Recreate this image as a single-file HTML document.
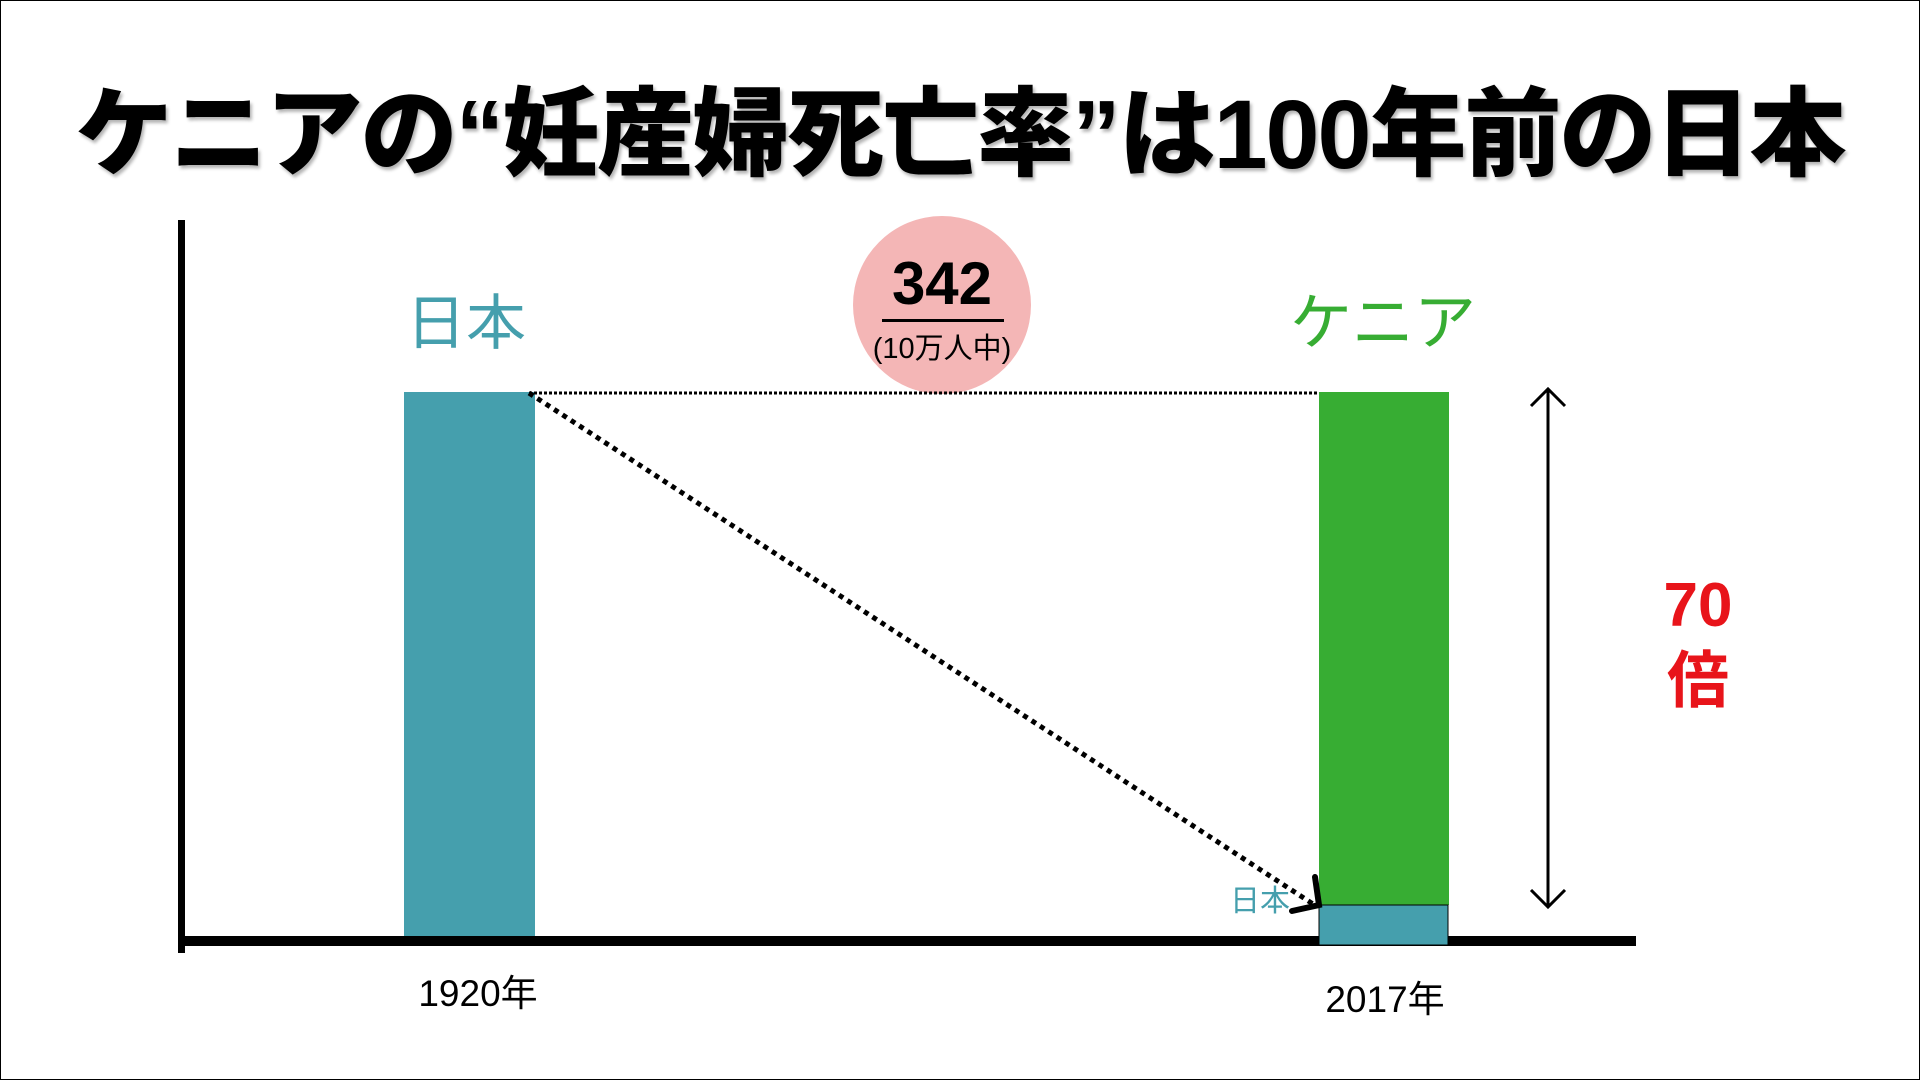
<!DOCTYPE html>
<html><head><meta charset="utf-8"><style>
html,body{margin:0;padding:0;background:#fff;}
body{width:1920px;height:1080px;position:relative;overflow:hidden;font-family:"Liberation Sans","Noto Sans CJK JP",sans-serif;}
.t{position:absolute;white-space:nowrap;}
</style></head><body>
<div style="position:absolute;left:0;top:0;width:1918px;height:1078px;border:1px solid #000;"></div>
<div class="t" style="left:0;width:1920px;top:80px;text-align:center;font-size:97px;font-weight:900;line-height:110px;letter-spacing:-2px;color:#000;text-shadow:2px 3px 3px rgba(0,0,0,0.3);">ケニアの“妊産婦死亡率”は100年前の日本</div>
<svg width="1920" height="1080" style="position:absolute;left:0;top:0">
<rect x="178" y="220" width="7" height="733" fill="#000"/>
<rect x="181" y="936" width="1455" height="10" fill="#000"/>
<rect x="404" y="392" width="131" height="544" fill="#459fad"/>
<rect x="1319" y="392" width="130" height="513" fill="#37ad33"/>
<rect x="1319" y="905" width="129" height="40" fill="#459fad" stroke="#000" stroke-width="1"/>
<circle cx="942" cy="305" r="89" fill="#f4b6b6"/>
<line x1="529" y1="393" x2="1319" y2="393" stroke="#000" stroke-width="3" stroke-dasharray="3,2"/>
<line x1="529" y1="393" x2="1313" y2="904" stroke="#000" stroke-width="5" stroke-dasharray="5,5"/>
<polyline points="1315,877 1319,905 1292,911" fill="none" stroke="#000" stroke-width="6" stroke-linecap="round"/>
<line x1="1548" y1="391" x2="1548" y2="905" stroke="#000" stroke-width="3"/>
<polyline points="1531,406 1548,389 1565,406" fill="none" stroke="#000" stroke-width="3"/>
<polyline points="1531,890 1548,907 1565,890" fill="none" stroke="#000" stroke-width="3"/>
<rect x="882" y="319" width="122" height="3" fill="#000"/>
</svg>
<div class="t" style="left:880px;width:124px;top:250px;text-align:center;font-size:60px;font-weight:bold;line-height:68px;">342</div>
<div class="t" style="left:842px;width:200px;top:332px;text-align:center;font-size:29px;line-height:34px;">(10万人中)</div>
<div class="t" style="left:406px;top:290px;font-size:60px;line-height:68px;color:#459fad;">日本</div>
<div class="t" style="left:1290px;top:290px;font-size:62px;line-height:68px;color:#37ad33;">ケニア</div>
<div class="t" style="left:1230px;top:884px;font-size:30px;line-height:36px;color:#459fad;">日本</div>
<div class="t" style="left:1600px;width:196px;top:568px;text-align:center;font-size:62px;font-weight:bold;line-height:76px;color:#e8141a;">70</div>
<div class="t" style="left:1600px;width:196px;top:644px;text-align:center;font-size:62px;font-weight:bold;line-height:76px;color:#e8141a;">倍</div>
<div class="t" style="left:378px;width:200px;top:972px;text-align:center;font-size:37px;line-height:44px;">1920年</div>
<div class="t" style="left:1285px;width:200px;top:978px;text-align:center;font-size:37px;line-height:44px;">2017年</div>
</body></html>
